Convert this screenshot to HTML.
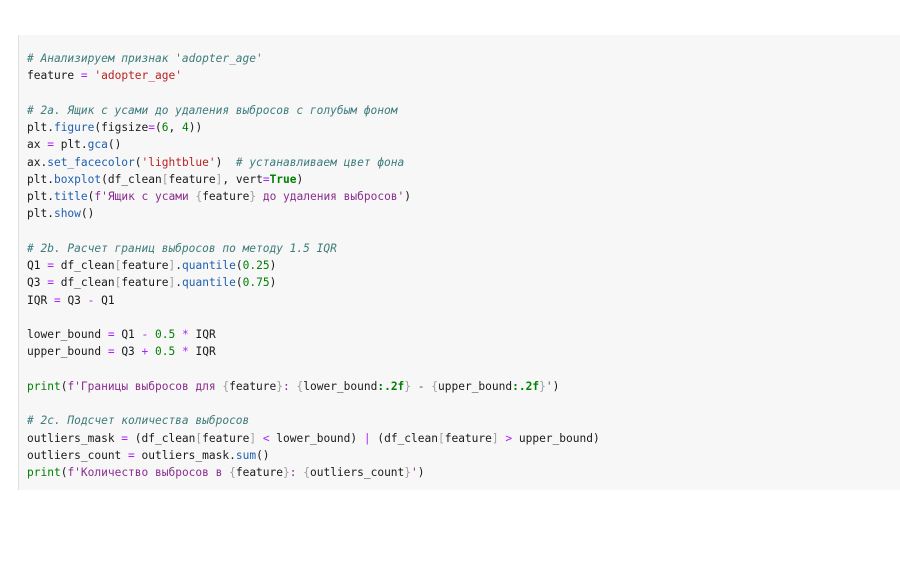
<!DOCTYPE html>
<html><head><meta charset="utf-8"><style>
body{margin:0;width:900px;height:583px;background:#fff;overflow:hidden}
.cell{position:absolute;left:18px;top:35px;width:882px;height:455px;background:#f7f7f7;border-left:1px solid #e0e0e0}
pre{position:absolute;left:27px;top:50px;margin:0;font-family:"DejaVu Sans Mono","Liberation Mono",monospace;font-size:11.2px;line-height:17.25px;color:#1a1a1a}
.c{color:#3d7b7b;font-style:italic}
.s{color:#ba2121}
.f{color:#8a2d8f}
.o{color:#aa22ff}
.n{color:#008000}
.b{color:#008000;font-weight:bold}
.m{color:#2160b0}
.g{color:#a0a0a0}
</style></head><body>
<div class="cell"></div>
<pre><span class="c"># Анализируем признак 'adopter_age'</span>
feature <span class="o">=</span> <span class="s">'adopter_age'</span>

<span class="c"># 2a. Ящик с усами до удаления выбросов с голубым фоном</span>
plt.<span class="m">figure</span>(figsize<span class="o">=</span>(<span class="n">6</span>, <span class="n">4</span>))
ax <span class="o">=</span> plt.<span class="m">gca</span>()
ax.<span class="m">set_facecolor</span>(<span class="s">'lightblue'</span>)  <span class="c"># устанавливаем цвет фона</span>
plt.<span class="m">boxplot</span>(df_clean<span class="g">[</span>feature<span class="g">]</span>, vert<span class="o">=</span><span class="b">True</span>)
plt.<span class="m">title</span>(<span class="f">f'Ящик с усами </span><span class="g">{</span>feature<span class="g">}</span><span class="f"> до удаления выбросов'</span>)
plt.<span class="m">show</span>()

<span class="c"># 2b. Расчет границ выбросов по методу 1.5 IQR</span>
Q1 <span class="o">=</span> df_clean<span class="g">[</span>feature<span class="g">]</span>.<span class="m">quantile</span>(<span class="n">0.25</span>)
Q3 <span class="o">=</span> df_clean<span class="g">[</span>feature<span class="g">]</span>.<span class="m">quantile</span>(<span class="n">0.75</span>)
IQR <span class="o">=</span> Q3 <span class="o">-</span> Q1

lower_bound <span class="o">=</span> Q1 <span class="o">-</span> <span class="n">0.5</span> <span class="o">*</span> IQR
upper_bound <span class="o">=</span> Q3 <span class="o">+</span> <span class="n">0.5</span> <span class="o">*</span> IQR

<span class="n">print</span>(<span class="f">f'Границы выбросов для </span><span class="g">{</span>feature<span class="g">}</span><span class="f">: </span><span class="g">{</span>lower_bound<span class="b">:.2f</span><span class="g">}</span><span class="f"> - </span><span class="g">{</span>upper_bound<span class="b">:.2f</span><span class="g">}</span><span class="f">'</span>)

<span class="c"># 2c. Подсчет количества выбросов</span>
outliers_mask <span class="o">=</span> (df_clean<span class="g">[</span>feature<span class="g">]</span> <span class="o">&lt;</span> lower_bound) <span class="o">|</span> (df_clean<span class="g">[</span>feature<span class="g">]</span> <span class="o">&gt;</span> upper_bound)
outliers_count <span class="o">=</span> outliers_mask.<span class="m">sum</span>()
<span class="n">print</span>(<span class="f">f'Количество выбросов в </span><span class="g">{</span>feature<span class="g">}</span><span class="f">: </span><span class="g">{</span>outliers_count<span class="g">}</span><span class="f">'</span>)</pre>
</body></html>
